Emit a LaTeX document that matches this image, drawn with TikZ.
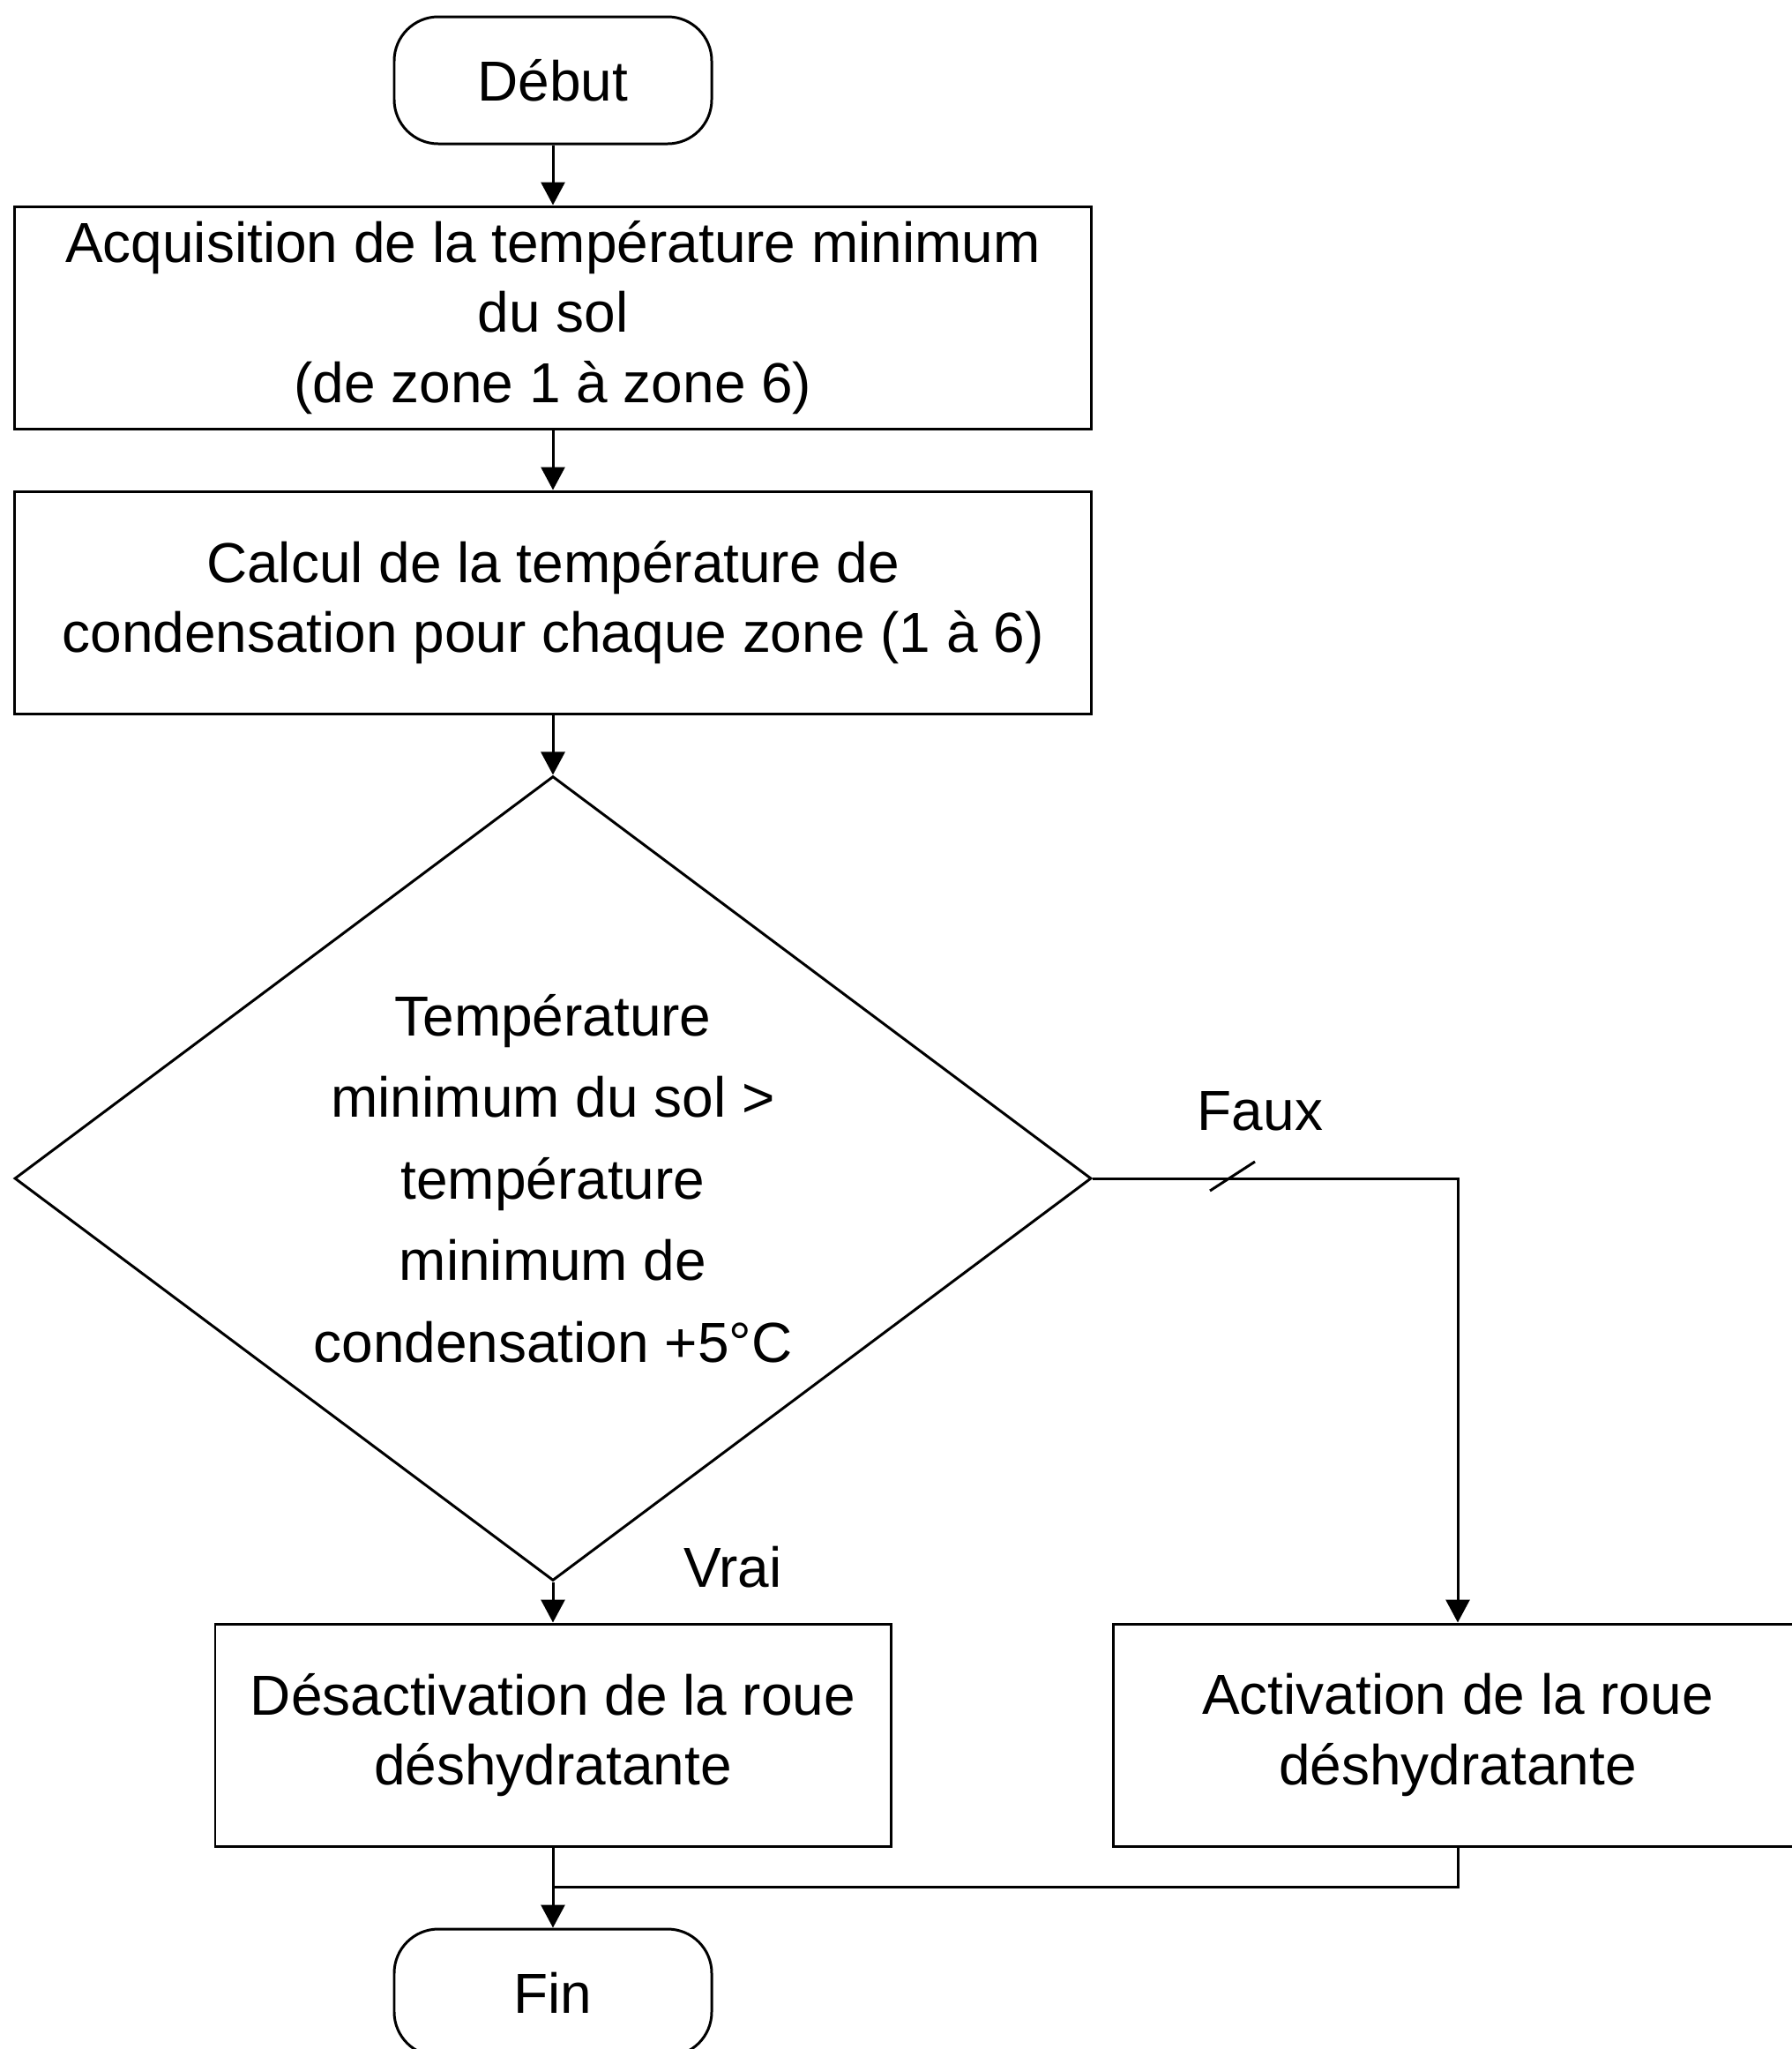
\documentclass[tikz,border=0pt]{standalone}
\usepackage{fontspec}
\setmainfont{Liberation Sans}
\usetikzlibrary{shapes.geometric, arrows.meta}

\begin{document}
\begin{tikzpicture}[
    line width=0.85pt, >={Triangle[length=2.6mm, width=2.7mm]},
    term/.style={draw, rectangle, rounded corners=5mm, minimum width=3.6cm, minimum height=1.44cm, font=\fontsize{18.2}{22.7}\selectfont},
    proc/.style={draw, rectangle, inner sep=0pt, align=center, minimum height=2.52cm, font=\fontsize{18.2}{22.7}\selectfont},
    test/.style={draw, diamond, inner sep=0pt, aspect=1.34, align=center, font=\fontsize{18.2}{26.3}\selectfont},
    lbl/.style={font=\fontsize{18.2}{22.7}\selectfont}
]
    \useasboundingbox (0,0) rectangle (20.32,-23.23);

    \node[term] (deb) at (6.27, -0.91) {Début};
    \node[proc, minimum width=12.21cm] (acq) at (6.27, -3.60) {Acquisition de la température minimum\\du sol\\(de zone 1 à zone 6)};
    \node[proc, minimum width=12.21cm] (calc) at (6.27, -6.83) {Calcul de la température de\\condensation pour chaque zone (1 à 6)};
    \node[test, minimum width=12.21cm, minimum height=9.12cm] (cond) at (6.27, -13.36) {Température\\minimum du sol >\\température\\minimum de\\condensation +5°C};
    \node[proc, minimum width=7.66cm] (off) at (6.27, -19.67) {Désactivation de la roue\\déshydratante};
    \node[proc, minimum width=7.82cm] (on) at (16.53, -19.67) {Activation de la roue\\déshydratante};
    \node[term] (fin) at (6.27, -22.59) {Fin};

    \node[lbl] (faux) at (14.29, -12.60) {Faux};
    \node[lbl] (vrai) at (8.31, -17.77) {Vrai};
    \coordinate (slash) at (13.97, -13.34);
    \coordinate (join) at (6.27, -21.39);

    \draw[->] (deb) -- (acq);
    \draw[->] (acq) -- (calc);
    \draw[->] (calc) -- (cond);
    \draw[->] (cond) -- (off);
    \draw[->] (cond.east) -| (on.north);
    \draw (slash) ++(-0.25, -0.16) -- ++(0.51, 0.33);
    \draw[->] (off) -- (fin);
    \draw (on.south) |- (join);
\end{tikzpicture}
\end{document}
